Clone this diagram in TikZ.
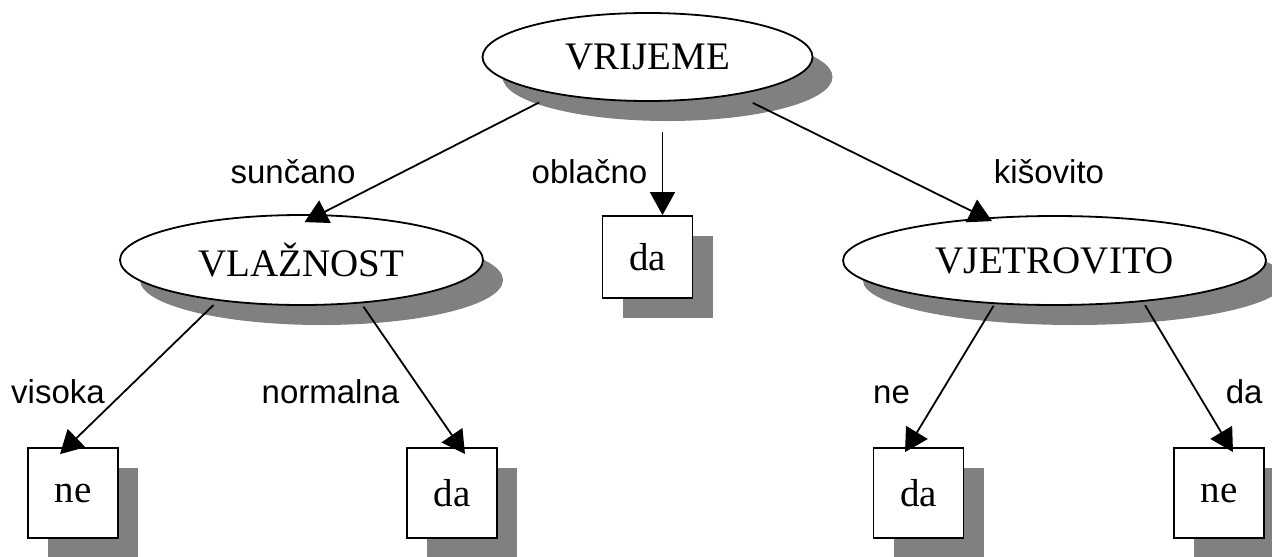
\documentclass[tikz,border=0pt]{standalone}
\usepackage{fontspec}
\setmainfont{Liberation Serif}
\newfontfamily\granafont{Liberation Sans}
\usetikzlibrary{arrows.meta,shapes.geometric,shadows}

\begin{document}
\begin{tikzpicture}[x=0.5pt,y=-0.5pt,line width=0.9pt,
  sjena/.style={drop shadow={shadow xshift=10pt,shadow yshift=-10pt,fill=gray,opacity=1}},
  atribut/.style={ellipse,draw,fill=white,sjena,inner sep=0pt,font=\fontsize{19.5}{22}\selectfont},
  list/.style={rectangle,draw,fill=white,sjena,minimum width=45pt,minimum height=45pt,font=\fontsize{19.5}{22}\selectfont},
  grana/.style={-{Triangle[length=11.5pt,width=12.5pt]}},
  oznaka/.style={anchor=base,font=\granafont\fontsize{16.5}{20}\selectfont}]
\useasboundingbox (0,0) rectangle (1272,556);

\node[atribut,minimum width=165pt,minimum height=44pt] (vrijeme) at (647.5,57) {VRIJEME};
\node[atribut,minimum width=181.5pt,minimum height=45pt] (vlaznost) at (301.5,260) {VLAŽNOST};
\node[atribut,minimum width=211.5pt,minimum height=44.5pt] (vjetrovito) at (1054.5,260.5) {VJETROVITO};
\node[list,minimum height=41pt] (oblacno) at (647.5,257) {da};
\node[list] (ne1) at (73,493) {ne};
\node[list] (da1) at (452,493) {da};
\node[list] (da2) at (918.5,493) {da};
\node[list] (ne2) at (1219,493) {ne};

% grane stabla
\draw[grana,shorten <=9pt] (vrijeme.202) -- ([shift={(1.5pt,-4pt)}]vlaznost.north);
\draw[grana,shorten <=15pt] ([xshift=7.5pt]vrijeme.south) -- ([xshift=7.5pt]oblacno.north);
\draw[grana,shorten <=9pt] (vrijeme.337) -- ([shift={(-31.25pt,-3pt)}]vjetrovito.north);
\draw[grana,shorten <=3pt] (vlaznost.206) -- ([shift={(-6.5pt,-3.5pt)}]ne1.north);
\draw[grana,shorten <=2pt] (vlaznost.324) -- ([shift={(6.5pt,-3.5pt)}]da1.north);
\draw[grana,shorten <=1pt] (vjetrovito.216) -- ([shift={(-6.75pt,-2.5pt)}]da2.north);
\draw[grana,shorten <=2pt] (vjetrovito.335) -- ([shift={(7pt,-2.5pt)}]ne2.north);

% oznake grana
\node[oznaka] (suncano) at (293,183) {sunčano};
\node[oznaka] (oblacnoL) at (589.5,183) {oblačno};
\node[oznaka] (kisovito) at (1049,183) {kišovito};
\node[oznaka] (visoka) at (58,403) {visoka};
\node[oznaka] (normalna) at (330.5,403) {normalna};
\node[oznaka] (neL) at (891.5,403) {ne};
\node[oznaka,anchor=base east] (daL) at (1270,403) {da};
\end{tikzpicture}
\end{document}
